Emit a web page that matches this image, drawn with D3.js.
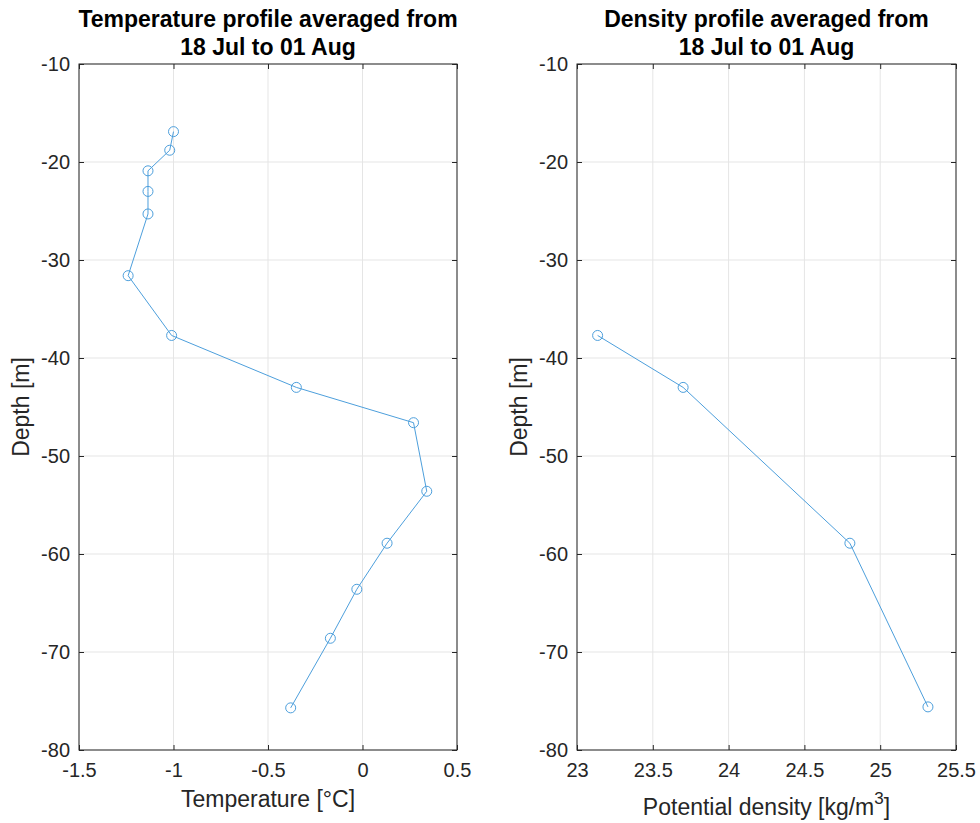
<!DOCTYPE html>
<html>
<head>
<meta charset="utf-8">
<script src="https://cdn.jsdelivr.net/npm/d3@7"></script>
<style>
  body { margin: 0; background: #fff; }
  svg text { font-family: "Liberation Sans", Arial, Helvetica, sans-serif; fill: #262626; }
  .title { font-weight: bold; font-size: 23px; fill: #000; }
  .tick text { font-size: 20px; }
  .axlabel { font-size: 23px; }
</style>
</head>
<body>
<div id="chart"></div>
<script>
// Data
const tempDepth = [-16.9, -18.8, -20.9, -23.0, -25.3, -31.6, -37.7, -43.0, -46.6, -53.6, -58.9, -63.6, -68.6, -75.7];
const tempValues = [-1.00, -1.02, -1.135, -1.135, -1.135, -1.24, -1.01, -0.35, 0.27, 0.34, 0.13, -0.03, -0.17, -0.38];

const densDepth = [-37.7, -43.0, -58.9, -75.6];
const densValues = [23.136, 23.70, 24.80, 25.315];

const depthTicks = [-10, -20, -30, -40, -50, -60, -70, -80];
const tempTicks = [-1.5, -1, -0.5, 0, 0.5];
const densTicks = [23, 23.5, 24, 24.5, 25, 25.5];

const titleLines = ["averaged from", "18 Jul to 01 Aug"];

// Page size
const svgW = 980;
const svgH = 823;
const plotTop = 64, plotBottom = 750;
const lineColor = "#4d9fdc";

const svg = d3.select("#chart").append("svg")
  .attr("width", svgW)
  .attr("height", svgH);

const y = d3.scaleLinear().domain([-80, -10]).range([plotBottom, plotTop]);

function drawPanel(opts) {
  const x = d3.scaleLinear().domain(opts.domain).range([opts.left, opts.right]);
  const g = svg.append("g");
  const w = opts.right - opts.left;
  const h = plotBottom - plotTop;

  // grid
  g.append("g").selectAll("line").data(opts.xTicks).enter().append("line")
    .attr("x1", d => x(d)).attr("x2", d => x(d))
    .attr("y1", plotTop).attr("y2", plotBottom)
    .attr("stroke", "#e5e5e5").attr("stroke-width", 1);
  g.append("g").selectAll("line").data(depthTicks).enter().append("line")
    .attr("x1", opts.left).attr("x2", opts.right)
    .attr("y1", d => y(d)).attr("y2", d => y(d))
    .attr("stroke", "#e5e5e5").attr("stroke-width", 1);

  // axes (inward ticks on all sides, like a boxed plot)
  const xb = g.append("g").attr("transform", `translate(0,${plotBottom})`)
    .call(d3.axisBottom(x).tickValues(opts.xTicks).tickSize(-5).tickPadding(13).tickSizeOuter(0).tickFormat(d => String(d)));
  const xt = g.append("g").attr("transform", `translate(0,${plotTop})`)
    .call(d3.axisTop(x).tickValues(opts.xTicks).tickSize(-5).tickSizeOuter(0).tickFormat(""));
  const yl = g.append("g").attr("transform", `translate(${opts.left},0)`)
    .call(d3.axisLeft(y).tickValues(depthTicks).tickSize(-5).tickPadding(9).tickSizeOuter(0).tickFormat(d => String(d)));
  const yr = g.append("g").attr("transform", `translate(${opts.right},0)`)
    .call(d3.axisRight(y).tickValues(depthTicks).tickSize(-5).tickSizeOuter(0).tickFormat(""));
  [xb, xt, yl, yr].forEach(a => {
    a.attr("font-size", null).attr("font-family", null);
    a.select(".domain").remove();
    a.selectAll(".tick line").attr("stroke", "#262626");
    a.selectAll(".tick text").attr("fill", "#262626");
  });

  // box
  g.append("rect")
    .attr("x", opts.left).attr("y", plotTop)
    .attr("width", w).attr("height", h)
    .attr("fill", "none").attr("stroke", "#262626").attr("stroke-width", 1);

  // data line + markers
  const pts = opts.values.map((v, i) => [v, opts.depth[i]]);
  g.append("path")
    .datum(pts)
    .attr("fill", "none")
    .attr("stroke", lineColor)
    .attr("stroke-width", 1)
    .attr("d", d3.line().x(d => x(d[0])).y(d => y(d[1])));
  g.append("g").selectAll("circle").data(pts).enter().append("circle")
    .attr("cx", d => x(d[0])).attr("cy", d => y(d[1]))
    .attr("r", 5)
    .attr("fill", "none")
    .attr("stroke", lineColor)
    .attr("stroke-width", 1);

  // title
  const cx = (opts.left + opts.right) / 2;
  g.append("text").attr("class", "title")
    .attr("x", cx).attr("y", 27).attr("text-anchor", "middle")
    .text(opts.titleStart + " " + titleLines[0]);
  g.append("text").attr("class", "title")
    .attr("x", cx).attr("y", 55).attr("text-anchor", "middle")
    .text(titleLines[1]);

  // y label
  g.append("text").attr("class", "axlabel")
    .attr("transform", `translate(${opts.left - 50},${(plotTop + plotBottom) / 2}) rotate(-90)`)
    .attr("text-anchor", "middle")
    .text("Depth [m]");

  return g.append("text").attr("class", "axlabel")
    .attr("x", cx).attr("y", 807).attr("text-anchor", "middle");
}

// Left panel: temperature
const tLabel = drawPanel({
  left: 79, right: 457, domain: [-1.5, 0.5], xTicks: tempTicks,
  values: tempValues, depth: tempDepth, titleStart: "Temperature profile"
});
tLabel.text("Temperature [°C]");

// Right panel: density
const dLabel = drawPanel({
  left: 577, right: 956, domain: [23, 25.5], xTicks: densTicks,
  values: densValues, depth: densDepth, titleStart: "Density profile"
});
dLabel.attr("y", 815);
dLabel.append("tspan").text("Potential density [kg/m");
dLabel.append("tspan").attr("dy", -11).attr("font-size", "17px").text("3");
dLabel.append("tspan").attr("dy", 11).text("]");
</script>
</body>
</html>
